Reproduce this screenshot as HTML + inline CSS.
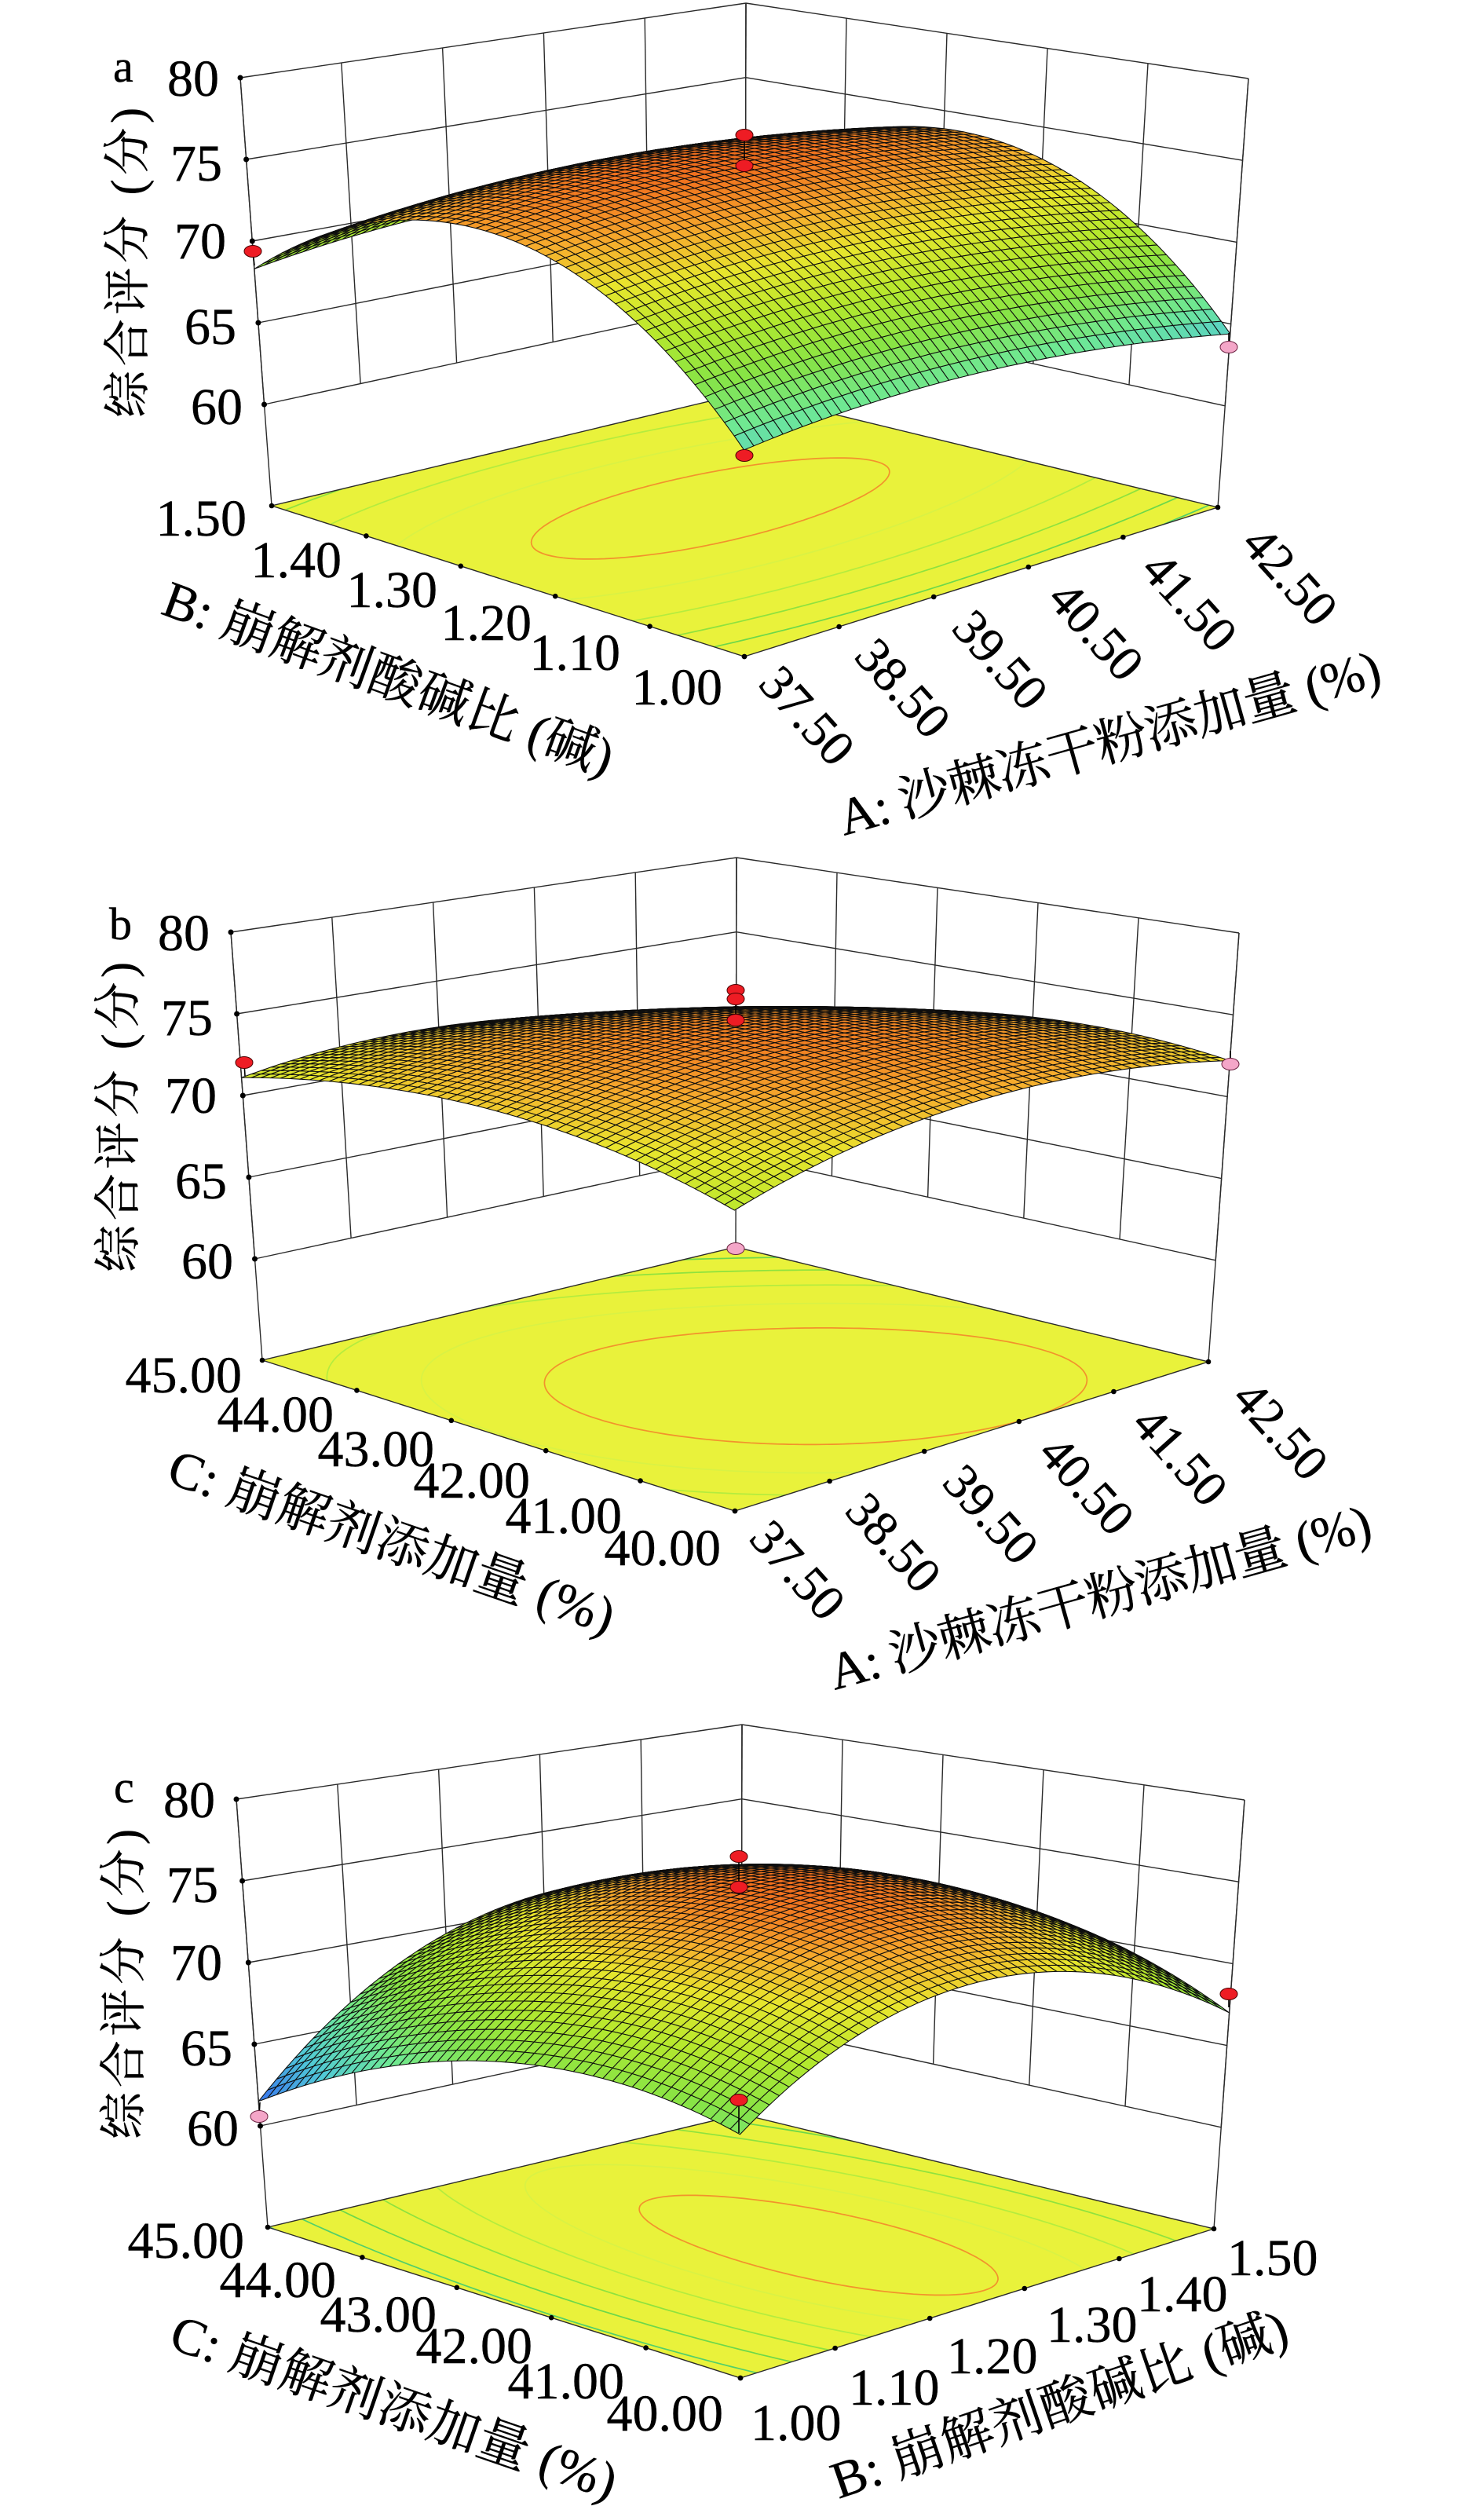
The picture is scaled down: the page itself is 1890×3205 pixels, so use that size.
<!DOCTYPE html>
<html><head><meta charset="utf-8">
<style>
html,body{margin:0;padding:0;background:#fff;width:1890px;height:3205px;overflow:hidden}
svg{display:block}
text{font-family:"Liberation Serif","Noto Serif CJK SC","Noto Sans CJK SC",serif;fill:#000;stroke:#000;stroke-width:0.45px}
.n text{font-size:66px}
</style></head><body>
<svg id="S" width="1890" height="3205" viewBox="0 0 1890 3205">
<defs><clipPath id="fc"><polygon points="948,836 1551,646 949,500 346,644"/></clipPath></defs>
<rect width="1890" height="3205" fill="#fff"/>
<g id="ga"></g>
<g id="gb" transform="translate(-12,1088)"></g>
<g id="gc" transform="translate(-5,2192)"></g>

<g id="dots" stroke="#4a0000" stroke-width="1">
 <g stroke="#000" stroke-width="1.6">
  <line x1="948" y1="172" x2="948" y2="211"/>
  <line x1="322" y1="320" x2="324" y2="338"/>
  <line x1="1565" y1="424" x2="1565" y2="442"/>
  <line x1="937" y1="1261" x2="937" y2="1300"/>
  <line x1="311" y1="1353" x2="312" y2="1370"/>
  <line x1="1567" y1="1338" x2="1567" y2="1355"/>
  <line x1="941" y1="2364" x2="941" y2="2403"/>
  <line x1="941" y1="2674" x2="941" y2="2716"/>
  <line x1="1565" y1="2539" x2="1565" y2="2556"/>
  <line x1="331" y1="2677" x2="330" y2="2695"/>
 </g>
 <ellipse cx="948" cy="172" rx="11" ry="7.5" fill="#ee1c24"/>
 <ellipse cx="948" cy="211" rx="11" ry="7.5" fill="#ee1c24"/>
 <ellipse cx="322" cy="320" rx="11" ry="7.5" fill="#ee1c24"/>
 <ellipse cx="948" cy="580" rx="11" ry="7.5" fill="#ee1c24"/>
 <ellipse cx="1565" cy="442" rx="11" ry="7.5" fill="#f4a6c8" stroke="#6a2040"/>
 <ellipse cx="937" cy="1261" rx="11" ry="7.5" fill="#ee1c24"/>
 <ellipse cx="937" cy="1272" rx="11" ry="7.5" fill="#ee1c24"/>
 <ellipse cx="937" cy="1299" rx="11" ry="7.5" fill="#ee1c24"/>
 <ellipse cx="311" cy="1353" rx="11" ry="7.5" fill="#ee1c24"/>
 <ellipse cx="1567" cy="1355" rx="11" ry="7.5" fill="#f4a6c8" stroke="#6a2040"/>
 <ellipse cx="937" cy="1590" rx="11" ry="7.5" fill="#f4a6c8" stroke="#6a2040"/>
 <ellipse cx="941" cy="2364" rx="11" ry="7.5" fill="#ee1c24"/>
 <ellipse cx="941" cy="2403" rx="11" ry="7.5" fill="#ee1c24"/>
 <ellipse cx="941" cy="2674" rx="11" ry="7.5" fill="#ee1c24"/>
 <ellipse cx="1565" cy="2539" rx="11" ry="7.5" fill="#ee1c24"/>
 <ellipse cx="330" cy="2695" rx="11" ry="7.5" fill="#f4a6c8" stroke="#6a2040"/>
</g>

<!-- Panel a text -->
<text x="144" y="104" font-size="58">a</text>
<g id="ya">
 <g class="n" text-anchor="end">
  <text x="279" y="122">80</text>
  <text x="283" y="230">75</text>
  <text x="288" y="329">70</text>
  <text x="301" y="438">65</text>
  <text x="309" y="540">60</text>
 </g>
 <text transform="translate(183,532) rotate(-90)" font-size="60" textLength="395">综合评分 (分)</text>
</g>
<g class="n" text-anchor="end">
 <text x="314" y="682">1.50</text>
 <text x="435" y="735">1.40</text>
 <text x="557" y="773">1.30</text>
 <text x="677" y="815">1.20</text>
 <text x="790" y="853">1.10</text>
 <text x="920" y="897">1.00</text>
</g>
<text transform="translate(203,781) rotate(20)" font-size="66" textLength="605">B: 崩解剂酸碱比 (碱)</text>
<g font-size="64">
 <text transform="translate(1579,694) rotate(48)" font-size="64">42.50</text>
 <text transform="translate(1451,727) rotate(48)" font-size="64">41.50</text>
 <text transform="translate(1332,764) rotate(48)" font-size="64">40.50</text>
 <text transform="translate(1210,801) rotate(48)" font-size="64">39.50</text>
 <text transform="translate(1086,837) rotate(48)" font-size="64">38.50</text>
 <text transform="translate(964,872) rotate(48)" font-size="64">37.50</text>
</g>
<text transform="translate(1075,1064) rotate(-15.7)" font-size="66" textLength="714">A: 沙棘冻干粉添加量 (%)</text>

<!-- Panel b text -->
<text x="139" y="1196" font-size="58">b</text>
<g transform="translate(-12,1088)">
 <g class="n" text-anchor="end">
  <text x="279" y="122">80</text>
  <text x="283" y="230">75</text>
  <text x="288" y="329">70</text>
  <text x="301" y="438">65</text>
  <text x="309" y="540">60</text>
 </g>
 <text transform="translate(183,532) rotate(-90)" font-size="60" textLength="395">综合评分 (分)</text>
 <text transform="translate(1579,694) rotate(48)" font-size="64">42.50</text>
 <text transform="translate(1451,727) rotate(48)" font-size="64">41.50</text>
 <text transform="translate(1332,764) rotate(48)" font-size="64">40.50</text>
 <text transform="translate(1210,801) rotate(48)" font-size="64">39.50</text>
 <text transform="translate(1086,837) rotate(48)" font-size="64">38.50</text>
 <text transform="translate(964,872) rotate(48)" font-size="64">37.50</text>
 <text transform="translate(1075,1064) rotate(-15.7)" font-size="66" textLength="714">A: 沙棘冻干粉添加量 (%)</text>
</g>
<g class="n" text-anchor="end">
 <text x="308" y="1773">45.00</text>
 <text x="425" y="1823">44.00</text>
 <text x="553" y="1867">43.00</text>
 <text x="675" y="1907">42.00</text>
 <text x="792" y="1952">41.00</text>
 <text x="918" y="1993">40.00</text>
</g>
<text transform="translate(210,1887) rotate(19)" font-size="66" textLength="596">C: 崩解剂添加量 (%)</text>

<!-- Panel c text -->
<text x="145" y="2295" font-size="58">c</text>
<g transform="translate(-5,2192)">
 <g class="n" text-anchor="end">
  <text x="279" y="122">80</text>
  <text x="283" y="230">75</text>
  <text x="288" y="329">70</text>
  <text x="301" y="438">65</text>
  <text x="309" y="540">60</text>
 </g>
 <text transform="translate(183,532) rotate(-90)" font-size="60" textLength="395">综合评分 (分)</text>
</g>
<g class="n" text-anchor="end">
 <text x="311" y="2875">45.00</text>
 <text x="428" y="2925">44.00</text>
 <text x="556" y="2969">43.00</text>
 <text x="678" y="3009">42.00</text>
 <text x="795" y="3054">41.00</text>
 <text x="921" y="3095">40.00</text>
</g>
<text transform="translate(213,2989) rotate(19)" font-size="66" textLength="596">C: 崩解剂添加量 (%)</text>
<g class="n">
 <text x="1563" y="2897">1.50</text>
 <text x="1448" y="2943">1.40</text>
 <text x="1333" y="2982">1.30</text>
 <text x="1206" y="3022">1.20</text>
 <text x="1081" y="3062">1.10</text>
 <text x="956" y="3107">1.00</text>
</g>
<text transform="translate(1068,3182) rotate(-19)" font-size="66" textLength="610">B: 崩解剂酸碱比 (碱)</text>
</svg>

<script>
(function(){
var F0=[948,836],R0=[1551,646],K0=[949,500],L0=[346,644];
var F1=[947,225],R1=[1590,100],K1=[950,4],L1=[306,99];
var Z0=53.8,Z1=80;
function bil(A,B,C,D,u,v){
  var a=(1-u)*(1-v),b=u*(1-v),c=u*v,d=(1-u)*v;
  return [A[0]*a+B[0]*b+C[0]*c+D[0]*d, A[1]*a+B[1]*b+C[1]*c+D[1]*d];
}
function P(u,v,z){
  var p=bil(F0,R0,K0,L0,u,v),q=bil(F1,R1,K1,L1,u,v),t=(z-Z0)/(Z1-Z0);
  return [p[0]+(q[0]-p[0])*t,p[1]+(q[1]-p[1])*t];
}
function f2(p){return p[0].toFixed(1)+','+p[1].toFixed(1);}
var stops=[[60,[40,80,230]],[62,[60,130,235]],[64,[80,200,215]],[66,[110,232,150]],[68,[135,228,70]],[70,[180,232,45]],[72,[232,230,45]],[73.5,[246,172,45]],[75,[240,112,30]],[76.5,[205,65,20]]];
function cm(z){
  if(z<=stops[0][0])return stops[0][1];
  for(var i=1;i<stops.length;i++){
    if(z<=stops[i][0]){var a=stops[i-1],b=stops[i],t=(z-a[0])/(b[0]-a[0]);
      return [0,1,2].map(function(k){return Math.round(a[1][k]+(b[1][k]-a[1][k])*t);});}
  }
  return stops[stops.length-1][1];
}
function ln(p,q){return '<line x1="'+p[0].toFixed(1)+'" y1="'+p[1].toFixed(1)+'" x2="'+q[0].toFixed(1)+'" y2="'+q[1].toFixed(1)+'"/>';}
function build(gid,prm,cs,levels){
  var c=prm[0],al=prm[1],be=prm[2],ga=prm[3],de=prm[4],ep=prm[5];
  function f(a,b){return c+al*a+be*b+ga*a*b+de*a*a+ep*b*b;}
  var s='',i,j,z,p;
  s+='<g stroke="#2a2a2a" stroke-width="1.4" fill="none">';
  for(i=0;i<=5;i++){var u=i/5; s+=ln(P(u,1,60),P(u,1,80)); s+=ln(P(1,u,60),P(1,u,80));}
  for(z=60;z<=80;z+=5){ s+=ln(P(0,1,z),P(1,1,z)); s+=ln(P(1,0,z),P(1,1,z)); }
  s+=ln(P(0,1,Z0),P(0,1,80)); s+=ln(P(1,0,Z0),P(1,0,80)); s+=ln(P(1,1,Z0),P(1,1,80));
  s+='</g><g fill="#000">';
  for(z=60;z<=80;z+=5){p=P(0,1,z); s+='<circle cx="'+p[0].toFixed(1)+'" cy="'+p[1].toFixed(1)+'" r="3.5"/>';}
  s+='</g>';
  s+='<polygon points="'+[F0,R0,K0,L0].map(f2).join(' ')+'" fill="#e9f23b"/>';
  var sa,sb,zm,cd,cg,ce;
  if(cs){sa=cs[0];sb=cs[1];zm=cs[2];cd=cs[3];cg=cs[4];ce=cs[5];}
  else{var det=4*de*ep-ga*ga; sa=(-2*ep*al+ga*be)/det; sb=(-2*de*be+ga*al)/det; zm=f(sa,sb); cd=de;cg=ga;ce=ep;}
  s+='<g clip-path="url(#fc)" fill="none" stroke-width="1.7">';
  levels.forEach(function(L){
    var lv=L[0],col=L[1]; if(lv>=zm) return; var pts=[];
    for(var k=0;k<=240;k++){
      var th=k/240*2*Math.PI, ea=Math.cos(th), eb=Math.sin(th);
      var q=cd*ea*ea+cg*ea*eb+ce*eb*eb; var r=Math.sqrt((lv-zm)/q); if(r>6) r=6;
      var a=sa+r*ea,b=sb+r*eb;
      pts.push(f2(bil(F0,R0,K0,L0,(a+1)/2,(b+1)/2)));
    }
    s+='<polyline points="'+pts.join(' ')+'" stroke="'+col+'"/>';
  });
  s+='</g>';
  s+='<polygon points="'+[F0,R0,K0,L0].map(f2).join(' ')+'" fill="none" stroke="#2a2a2a" stroke-width="1.4"/>';
  s+='<g fill="#000">';
  for(i=0;i<=5;i++){
    p=bil(F0,R0,K0,L0,i/5,0); s+='<circle cx="'+p[0].toFixed(1)+'" cy="'+p[1].toFixed(1)+'" r="3.3"/>';
    p=bil(F0,R0,K0,L0,0,i/5); s+='<circle cx="'+p[0].toFixed(1)+'" cy="'+p[1].toFixed(1)+'" r="3.3"/>';
  }
  s+='</g>';
  var N=50,G=[],Zs=[];
  for(i=0;i<=N;i++){G[i]=[];Zs[i]=[];
    for(j=0;j<=N;j++){var uu=i/N,vv=j/N,zz=f(2*uu-1,2*vv-1);Zs[i][j]=zz;G[i][j]=P(uu,vv,zz);}}
  var Q=[];
  for(i=0;i<N;i++)for(j=0;j<N;j++)Q.push([i,j]);
  Q.sort(function(A,B){return (B[0]+B[1])-(A[0]+A[1]);});
  s+='<g stroke="#0e0e0e" stroke-width="1.05" stroke-linejoin="round">';
  Q.forEach(function(q){
    var i=q[0],j=q[1];
    var zz=(Zs[i][j]+Zs[i+1][j]+Zs[i+1][j+1]+Zs[i][j+1])/4;
    var col=cm(zz);
    s+='<polygon points="'+f2(G[i][j])+' '+f2(G[i+1][j])+' '+f2(G[i+1][j+1])+' '+f2(G[i][j+1])+'" fill="rgb('+col.join(',')+')"/>';
  });
  s+='</g>';
  document.getElementById(gid).innerHTML=s;
}
build('ga',[75.0,-0.07,1.88,0.27,-1.24,-7.14],null,
  [[74.5,'#f2922c'],[73,'#d9f244'],[71,'#b4ec3e'],[69,'#8ee23e'],[67,'#6cd84a'],[65,'#52cf6a']]);
build('gb',[74.6,-0.095,-0.645,-1.085,-2.0175,-2.0175],[0.06,-0.28,74.65,-2.0175,-1.085,-2.0175],
  [[73.68,'#f2922c'],[72.6,'#d9f244'],[71.5,'#b4ec3e'],[70.4,'#8ee23e'],[69.3,'#6cd84a']]);
build('gc',[74.9,1.775,-0.975,1.825,-5.41,-3.415],[0.107,-0.222,75.08,-7.0,0.0,-1.2],
  [[74.49,'#f2922c'],[73.5,'#d9f244'],[72.2,'#b4ec3e'],[70.6,'#8ee23e'],[68.8,'#6cd84a'],[66.8,'#52cf6a'],[64.8,'#48c690']]);
})();
</script>
</body></html>
